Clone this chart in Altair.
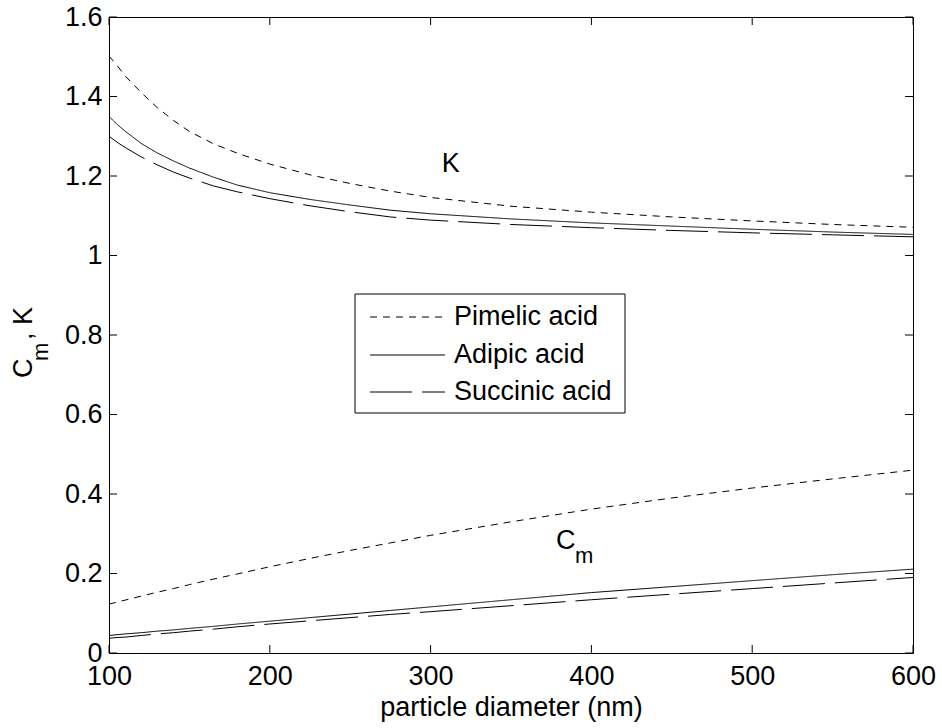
import altair as alt
import pandas as pd

# ---------------- data ----------------
diameter = [100, 105, 110, 120, 130, 140, 150, 165, 180, 200, 225, 250, 275, 300, 350, 400, 450, 500, 550, 600]

pimelic_K = [1.502, 1.478, 1.452, 1.410, 1.372, 1.340, 1.312, 1.281, 1.257, 1.230, 1.203, 1.181, 1.162, 1.146,
             1.124, 1.109, 1.097, 1.087, 1.078, 1.071]
adipic_K = [1.350, 1.330, 1.313, 1.282, 1.258, 1.238, 1.220, 1.197, 1.177, 1.158, 1.141, 1.127, 1.114, 1.105,
            1.092, 1.082, 1.074, 1.066, 1.059, 1.053]
succinic_K = [1.300, 1.285, 1.272, 1.248, 1.228, 1.210, 1.195, 1.175, 1.160, 1.143, 1.125, 1.110, 1.097, 1.089,
              1.078, 1.070, 1.063, 1.057, 1.052, 1.047]

pimelic_Cm = [0.123, 0.128, 0.133, 0.143, 0.153, 0.162, 0.172, 0.186, 0.199, 0.217, 0.238, 0.258, 0.277, 0.296,
              0.330, 0.362, 0.390, 0.415, 0.438, 0.460]
adipic_Cm = [0.044, 0.046, 0.048, 0.051, 0.055, 0.058, 0.062, 0.067, 0.073, 0.080, 0.089, 0.098, 0.107, 0.116,
             0.134, 0.152, 0.167, 0.182, 0.197, 0.211]
succinic_Cm = [0.037, 0.039, 0.040, 0.044, 0.048, 0.051, 0.055, 0.060, 0.066, 0.073, 0.081, 0.089, 0.097, 0.104,
               0.119, 0.134, 0.148, 0.162, 0.176, 0.190]

acids = ["Pimelic acid", "Adipic acid", "Succinic acid"]
dashes = [[7, 6], [1, 0], [42, 10]]
x_ticks = [100, 200, 300, 400, 500, 600]
y_ticks = [0, 0.2, 0.4, 0.6, 0.8, 1.0, 1.2, 1.4, 1.6]

rows = []
for acid, ks, cms in [("Pimelic acid", pimelic_K, pimelic_Cm),
                      ("Adipic acid", adipic_K, adipic_Cm),
                      ("Succinic acid", succinic_K, succinic_Cm)]:
    for d, kv, cv in zip(diameter, ks, cms):
        rows.append({"d": d, "v": kv, "acid": acid, "q": "K"})
        rows.append({"d": d, "v": cv, "acid": acid, "q": "Cm"})
df = pd.DataFrame(rows)

FONT = "Liberation Sans"
FS = 27
W, H = 804, 636
TICK = 8

x_scale = alt.Scale(domain=[100, 600], nice=False, zero=False)
y_scale = alt.Scale(domain=[0, 1.6], nice=False, zero=False)
dash_scale = alt.Scale(domain=acids, range=dashes)

x_axis = alt.Axis(values=x_ticks, format="d", title="particle diameter (nm)",
                  domain=False, ticks=False, tickSize=0, grid=False,
                  labelFont=FONT, labelFontSize=FS, labelColor="black",
                  labelPadding=10, labelOverlap=False, labelFlush=False,
                  titleFont=FONT, titleFontSize=FS, titleFontWeight="normal",
                  titleColor="black", titlePadding=5)
y_axis = alt.Axis(values=y_ticks, format="~g", title=None,
                  domain=False, ticks=False, tickSize=0, grid=False,
                  labelFont=FONT, labelFontSize=FS, labelColor="black",
                  labelPadding=7, labelOverlap=False, labelFlush=False)


def X(field):
    return alt.X(field, scale=x_scale, axis=x_axis)


def Y(field):
    return alt.Y(field, scale=y_scale, axis=y_axis)


lines = alt.Chart(df).mark_line(color="black", strokeWidth=1).encode(
    x=X("d:Q"), y=Y("v:Q"),
    strokeDash=alt.StrokeDash("acid:N", scale=dash_scale, legend=None),
    detail="q:N",
)

xt = pd.DataFrame({"d": x_ticks})
yt = pd.DataFrame({"v": y_ticks})

tick_bottom = alt.Chart(xt).mark_rule(color="black", strokeWidth=1).encode(
    x=X("d:Q"), y=alt.value(H), y2=alt.value(H - TICK))
tick_top = alt.Chart(xt).mark_rule(color="black", strokeWidth=1).encode(
    x=X("d:Q"), y=alt.value(0), y2=alt.value(TICK))
tick_left = alt.Chart(yt).mark_rule(color="black", strokeWidth=1).encode(
    y=Y("v:Q"), x=alt.value(0), x2=alt.value(TICK))
tick_right = alt.Chart(yt).mark_rule(color="black", strokeWidth=1).encode(
    y=Y("v:Q"), x=alt.value(W), x2=alt.value(W - TICK))

# annotations inside the plot
k_label = alt.Chart(pd.DataFrame({"d": [307], "v": [1.21], "txt": ["K"]})).mark_text(
    font=FONT, fontSize=FS, align="left", baseline="alphabetic", color="black"
).encode(x=X("d:Q"), y=Y("v:Q"), text="txt:N")

cm_df = pd.DataFrame({"d": [378.0], "v": [0.262], "c": ["C"], "m": ["m"]})
cm_c = alt.Chart(cm_df).mark_text(
    font=FONT, fontSize=FS, align="left", baseline="alphabetic", color="black"
).encode(x=X("d:Q"), y=Y("v:Q"), text="c:N")
cm_m = alt.Chart(cm_df).mark_text(
    font=FONT, fontSize=22, align="left", baseline="alphabetic", color="black", dx=19, dy=14
).encode(x=X("d:Q"), y=Y("v:Q"), text="m:N")

# legend box (drawn as marks)
leg_box = alt.Chart(pd.DataFrame({"a": [1]})).mark_rect(
    fill="white", stroke="black", strokeWidth=1
).encode(x=alt.value(246), x2=alt.value(516), y=alt.value(277), y2=alt.value(396))

leg_layers = [leg_box]
row_y = [300, 338, 375]
for acid, ry in zip(acids, row_y):
    one = pd.DataFrame({"acid": [acid]})
    leg_layers.append(
        alt.Chart(one).mark_rule(color="black", strokeWidth=1).encode(
            x=alt.value(261), x2=alt.value(336), y=alt.value(ry),
            strokeDash=alt.StrokeDash("acid:N", scale=dash_scale, legend=None))
    )
    leg_layers.append(
        alt.Chart(one).mark_text(font=FONT, fontSize=FS, align="left", baseline="middle",
                                 color="black").encode(
            x=alt.value(345), y=alt.value(ry), text="acid:N")
    )

# y-axis title "C_m , K" (rotated, with subscript)
yt_df = pd.DataFrame({"c": ["C"], "m": ["m"], "k": [", K"]})
ytitle_c = alt.Chart(yt_df).mark_text(
    font=FONT, fontSize=FS, align="left", baseline="alphabetic", angle=270, color="black"
).encode(x=alt.value(-77), y=alt.value(361), text="c:N")
ytitle_m = alt.Chart(yt_df).mark_text(
    font=FONT, fontSize=22, align="left", baseline="alphabetic", angle=270, color="black",
    dx=17, dy=16
).encode(x=alt.value(-77), y=alt.value(361), text="m:N")
ytitle_k = alt.Chart(yt_df).mark_text(
    font=FONT, fontSize=FS, align="left", baseline="alphabetic", angle=270, color="black",
    dx=38
).encode(x=alt.value(-77), y=alt.value(361), text="k:N")

chart = alt.layer(
    lines, tick_bottom, tick_top, tick_left, tick_right,
    k_label, cm_c, cm_m, *leg_layers, ytitle_c, ytitle_m, ytitle_k
).properties(
    width=W, height=H,
    autosize=alt.AutoSizeParams(type="none"),
    padding={"left": 109, "top": 17, "right": 29, "bottom": 75},
    background="white",
).configure_view(stroke="black", strokeWidth=1)

chart.save("out.html", embed_options={"renderer": "svg", "actions": False})
